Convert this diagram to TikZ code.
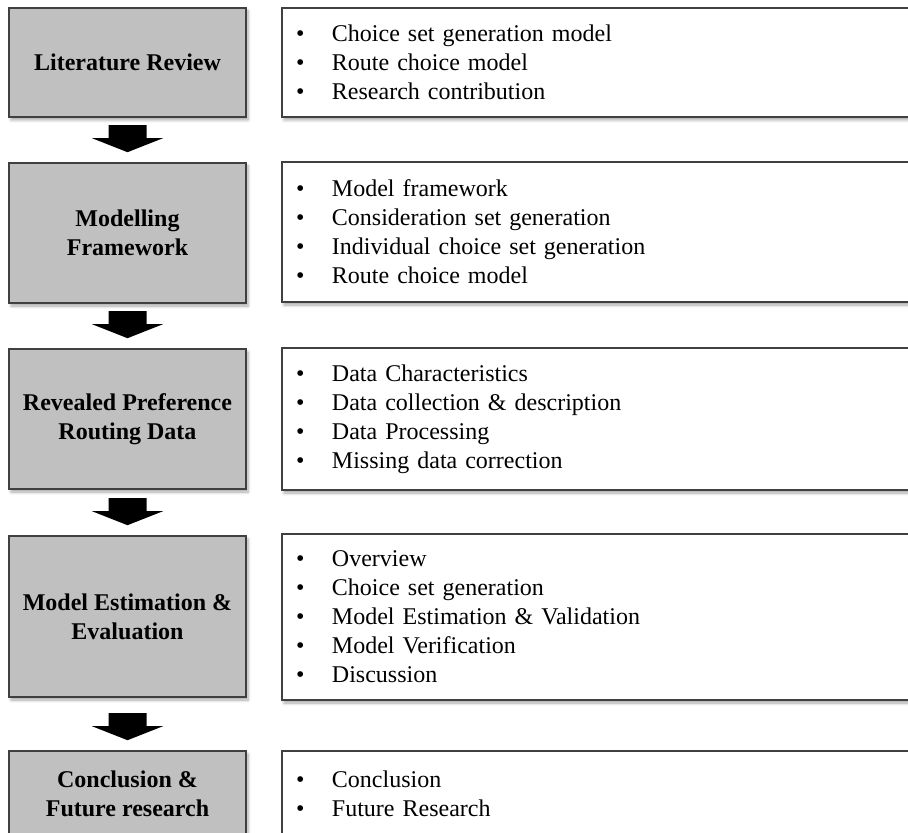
\documentclass[tikz,border=0pt]{standalone}
\usepackage{fontspec}
\setmainfont{Liberation Serif}
\usetikzlibrary{calc,shadows.blur}
\definecolor{stagegray}{RGB}{192,192,192}
\definecolor{boxline}{RGB}{64,64,64}
% bullet item with a fixed indent for the topic lists
\newcommand{\itm}[1]{\makebox[18pt][l]{\textbullet}#1}
% block arrow pointing down onto the named box
\newcommand{\downblock}[1]{%
  \fill[black] ($(#1.north)+(-19,-37)$) -- ($(#1.north)+(19,-37)$)
    -- ($(#1.north)+(19,-24)$) -- ($(#1.north)+(35.5,-24)$)
    -- ($(#1.north)+(0,-10)$) -- ($(#1.north)+(-35.5,-24)$)
    -- ($(#1.north)+(-19,-24)$) -- cycle;}
\begin{document}
\begin{tikzpicture}[x=0.5pt,y=-0.5pt,
  softshadow/.style={blur shadow={shadow xshift=1pt, shadow yshift=-1.5pt,
      shadow blur radius=1.5pt, shadow blur steps=6, shadow opacity=35}},
  stage/.style={draw=boxline, line width=0.8pt, fill=stagegray, softshadow,
      minimum width=118.5pt, inner sep=0pt, align=center,
      font=\bfseries\fontsize{12}{14.5}\selectfont},
  topics/.style={draw=boxline, line width=0.8pt, fill=white, softshadow,
      text width=305pt, inner xsep=7pt, inner ysep=0pt, align=left,
      font=\fontsize{12}{14.5}\selectfont}]
\useasboundingbox (0,0) rectangle (908,833);

% stages on the left
\node[stage, minimum height=54.5pt] (s1) at (127.5,62.5) {Literature Review};
\node[stage, minimum height=70pt]   (s2) at (127.5,233)  {Modelling\\Framework};
\node[stage, minimum height=70pt]   (s3) at (127.5,419)  {Revealed Preference\\Routing Data};
\node[stage, minimum height=80.5pt] (s4) at (127.5,616.5){Model Estimation \&\\Evaluation};
\node[stage, minimum height=42.5pt] (s5) at (127.5,793.5){Conclusion \&\\Future research};

% topic lists on the right
\node[topics, minimum height=54.5pt] (t1) at (601,62.5) {%
  \itm{Choice set generation model}\\
  \itm{Route choice model}\\
  \itm{Research contribution}};
\node[topics, minimum height=70pt] (t2) at (601,232) {%
  \itm{Model framework}\\
  \itm{Consideration set generation}\\
  \itm{Individual choice set generation}\\
  \itm{Route choice model}};
\node[topics, minimum height=71pt] (t3) at (601,419) {%
  \itm{Data Characteristics}\\
  \itm{Data collection \& description}\\
  \itm{Data Processing}\\
  \itm{Missing data correction}};
\node[topics, minimum height=83pt] (t4) at (601,617) {%
  \itm{Overview}\\
  \itm{Choice set generation}\\
  \itm{Model Estimation \& Validation}\\
  \itm{Model Verification}\\
  \itm{Discussion}};
\node[topics, minimum height=42.5pt] (t5) at (601,793.5) {%
  \itm{Conclusion}\\
  \itm{Future Research}};

% arrows between the stages
\downblock{s2}
\downblock{s3}
\downblock{s4}
\downblock{s5}
\end{tikzpicture}
\end{document}
